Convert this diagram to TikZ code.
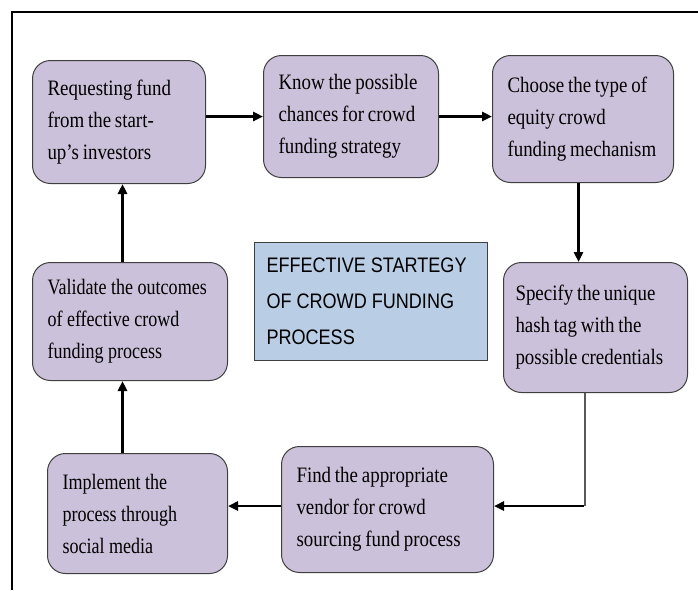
\documentclass[tikz,border=0pt]{standalone}
\usepackage{fontspec}
\usepackage{tikz}
\usetikzlibrary{arrows.meta,positioning,calc}
\newfontfamily\stagefont[FakeStretch=0.86,WordSpace=0.8]{Liberation Serif}
\newfontfamily\plainfont[FakeStretch=0.82]{Liberation Serif}
\newfontfamily\titlefont[FakeStretch=0.86]{Liberation Sans}
\definecolor{lavender}{HTML}{CCC1DA}
\definecolor{boxline}{HTML}{3F3F3F}
\definecolor{titleblue}{HTML}{B9CDE5}

\begin{document}
\begin{tikzpicture}[x=1pt,y=-1pt,
stage/.style={draw=boxline,fill=lavender,line width=1pt,rounded corners=18pt,
  anchor=north west,inner xsep=15pt,align=flush left,
  font=\stagefont\fontsize{22}{32}\selectfont},
flow/.style={line width=2.5pt,-{Triangle[length=10pt,width=9pt]}}
]
\useasboundingbox (0,0) rectangle (698,590);
\draw [line width=1.5pt] (12,590) -- (12,12) -- (698,12);
% the seven stages
\node [stage,text width=143pt,minimum height=123pt] (req) at (32,60)
  {Requesting fund\\from the start-\\up’s investors};
\node [stage,text width=145pt,minimum height=122pt] (know) at (263,55)
  {Know the possible\\chances for crowd\\funding strategy};
\node [stage,text width=151pt,minimum height=127pt] (choose) at (492,55)
  {Choose the type of\\equity crowd\\funding mechanism};
\node [stage,text width=160pt,minimum height=130pt,inner xsep=12pt] (spec) at (503,262)
  {Specify the unique\\hash tag with the\\possible credentials};
\node [stage,text width=182pt,minimum height=126pt] (find) at (281,446)
  {Find the appropriate\\vendor for crowd\\sourcing fund process};
\node [stage,text width=150pt,minimum height=120pt,font=\plainfont\fontsize{22}{32}\selectfont] (impl) at (47,453)
  {Implement the\\process through\\social media};
\node [stage,text width=165pt,minimum height=118pt,font=\plainfont\fontsize{22}{32}\selectfont] (valid) at (32,262)
  {Validate the outcomes\\of effective crowd\\funding process};
\node [draw=boxline,fill=titleblue,line width=1pt,anchor=north west,inner xsep=12pt,
  text width=209pt,minimum height=118pt,align=flush left,
  font=\titlefont\fontsize{21}{36}\selectfont] (title) at (254,242)
  {EFFECTIVE STARTEGY\\OF CROWD FUNDING\\PROCESS};
% connectors
\coordinate (turn) at (585,506);
\draw [flow] (req.east |- know.west) -- (know.west);
\draw [flow] (know.east) -- (know.east -| choose.west);
\draw [flow] ([xshift=-4.5pt]choose.south) -- ([xshift=-4.5pt]choose.south |- spec.north);
\draw [gray!70!black,line width=1.2pt] (spec.south -| turn) -- (turn);
\draw [flow] ([xshift=-0.6pt]turn) -- (turn -| find.east);
\draw [flow] (find.west |- turn) -- (impl.east |- turn);
\draw [flow] ([xshift=-15pt]impl.north) -- ([xshift=-15pt]impl.north |- valid.south);
\draw [flow] ([xshift=-7.5pt]valid.north) -- ([xshift=-7.5pt]valid.north |- req.south);
\end{tikzpicture}
\end{document}
